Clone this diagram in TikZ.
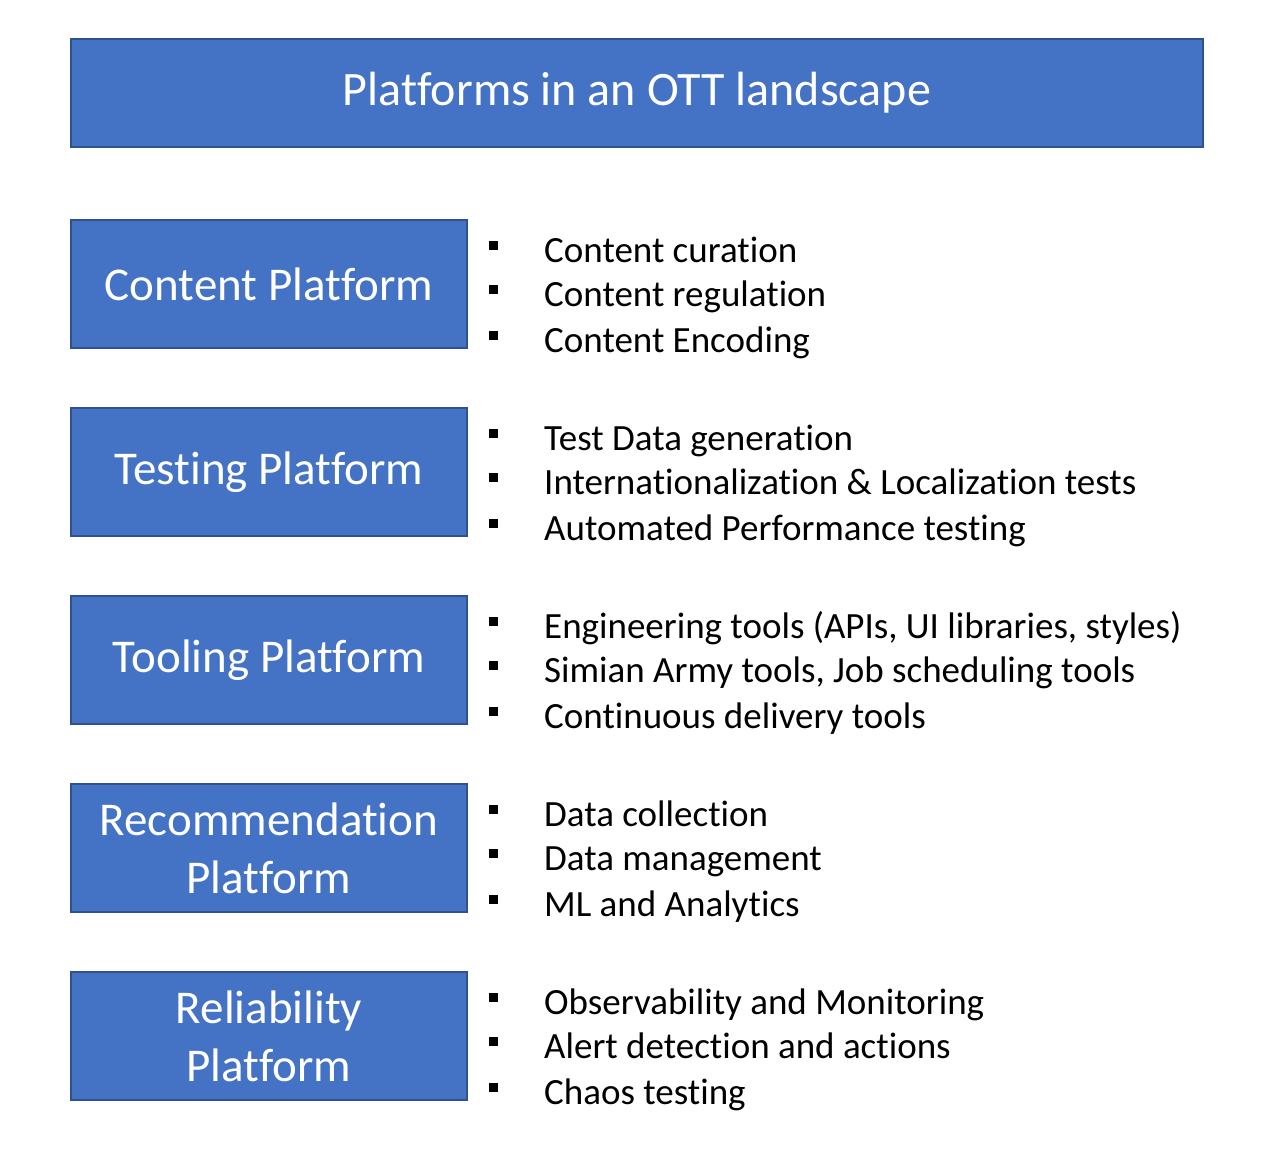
\documentclass[tikz,border=0pt]{standalone}
\usepackage{fontspec}
\setmainfont{Carlito}[Ligatures=CommonOff]
\usepackage{xcolor}
\definecolor{boxblue}{HTML}{4472C4}
\definecolor{boxline}{HTML}{2F528F}
\tikzset{
	platbox/.style={draw=boxline, fill=boxblue, text=white, line width=1.2pt, align=center, inner sep=0pt},
	item/.style={anchor=base west, inner sep=0pt, font=\fontsize{37}{40}\selectfont},
}
\begin{document}
\begin{tikzpicture}[x=1pt, y=-1pt]
	\useasboundingbox (0,0) rectangle (1268,1164);
	\node [platbox, minimum width=1132pt, minimum height=108pt, font=\fontsize{48}{54}\selectfont] (title) at (637,93) {Platforms in an OTT landscape};
	\foreach \name/\label/\top in {content/Content Platform/219, testing/Testing Platform/407, tooling/Tooling Platform/595, recom/Recommendation\\Platform/783, reliab/Reliability\\Platform/971} {
		\node [platbox, minimum width=396pt, minimum height=128pt, font=\fontsize{47}{58}\selectfont] (\name) at (269,\top+65) {\label};
	}
	\foreach \top/\a/\b/\c in {219/Content curation/Content regulation/Content Encoding,
		407/Test Data generation/Internationalization \& Localization tests/Automated Performance testing,
		595/{Engineering tools (APIs, UI libraries, styles)}/{Simian Army tools, Job scheduling tools}/Continuous delivery tools,
		783/Data collection/Data management/ML and Analytics,
		971/Observability and Monitoring/Alert detection and actions/Chaos testing} {
		\foreach \dy/\t in {31/\a, 75/\b, 121/\c} {
			\fill (489,\top+\dy-9) rectangle +(9,9);
			\node [item] at (544,\top+\dy+12) {\t};
		}
	}
\end{tikzpicture}
\end{document}
